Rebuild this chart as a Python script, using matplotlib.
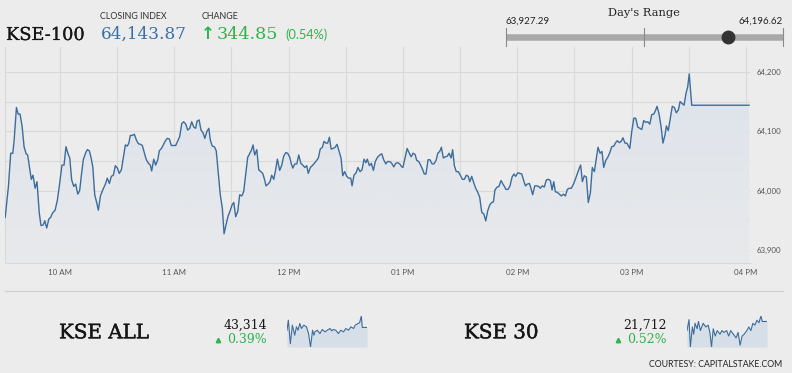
"""KSE-100 intraday widget: index line with day's range header and two sparklines."""

import matplotlib.patheffects as pe
import matplotlib.pyplot as plt
import numpy as np
from matplotlib.colors import LinearSegmentedColormap

# KSE-100 intraday: minutes after 09:30 and index level
kse100_minutes = [
    1.2, 2.9, 4.1, 5.2, 5.9, 7.1, 8.0, 9.0, 10.1, 11.1,
    12.2, 13.0, 13.9, 14.9, 15.8, 16.9, 17.9, 19.1, 20.0, 21.1,
    22.0, 23.0, 24.1, 25.1, 26.0, 27.4, 28.6, 29.6, 31.0, 32.1,
    33.1, 34.2, 35.1, 36.1, 37.2, 38.2, 39.3, 40.3, 41.2, 42.2,
    43.5, 44.3, 45.4, 46.3, 47.2, 48.2, 49.3, 50.1, 51.2, 52.4,
    53.8, 54.8, 55.9, 56.9, 58.0, 59.0, 60.1, 61.1, 62.2, 63.2,
    64.3, 65.3, 66.1, 66.9, 68.0, 69.0, 70.1, 71.1, 72.2, 73.2,
    74.3, 75.3, 76.4, 77.4, 78.1, 79.2, 80.2, 81.3, 82.1, 83.2,
    84.2, 85.3, 86.3, 87.4, 88.4, 89.5, 90.7, 91.8, 92.8, 93.9,
    94.9, 96.0, 97.0, 98.1, 99.1, 100.2, 101.2, 101.9, 103.0, 104.0,
    105.1, 106.0, 107.0, 108.1, 108.9, 109.9, 111.0, 112.0, 113.1, 114.1,
    115.2, 116.1, 117.1, 118.2, 119.2, 120.3, 121.2, 122.2, 123.3, 124.3,
    125.4, 126.4, 127.5, 128.5, 129.6, 130.6, 131.3, 132.2, 133.3, 134.3,
    135.4, 136.4, 137.5, 138.1, 139.2, 140.2, 141.1, 142.2, 143.0, 144.1,
    145.3, 146.4, 147.4, 148.5, 149.5, 150.6, 151.4, 152.2, 153.2, 154.3,
    155.3, 156.4, 157.4, 158.5, 159.5, 160.3, 161.4, 162.4, 163.5, 164.5,
    165.6, 166.6, 167.7, 168.6, 169.6, 170.5, 171.4, 172.3, 173.3, 174.4,
    175.4, 176.5, 177.5, 178.4, 179.4, 180.5, 181.5, 182.6, 183.3, 184.3,
    185.4, 186.4, 187.5, 188.5, 189.6, 190.6, 191.3, 192.4, 193.4, 194.5,
    195.5, 196.6, 197.8, 198.9, 199.9, 201.0, 202.0, 203.1, 204.1, 205.2,
    206.2, 207.3, 208.3, 209.4, 210.0, 211.1, 212.2, 213.2, 214.3, 215.3,
    216.4, 217.2, 218.3, 219.3, 220.4, 221.2, 222.1, 223.2, 224.2, 225.3,
    226.3, 227.4, 228.3, 229.3, 230.2, 231.2, 232.3, 233.3, 234.2, 235.3,
    236.1, 237.0, 238.0, 239.1, 240.1, 241.2, 242.2, 243.3, 244.3, 245.1,
    246.1, 247.2, 248.2, 249.3, 250.3, 251.4, 252.4, 253.5, 254.5, 255.6,
    256.6, 257.5, 258.3, 259.4, 260.4, 261.5, 262.5, 263.1, 264.1, 265.2,
    266.2, 267.3, 268.3, 269.2, 270.3, 271.3, 272.4, 273.2, 274.3, 275.3,
    276.4, 277.2, 278.1, 279.2, 280.2, 281.3, 282.1, 283.2, 284.2, 285.3,
    286.3, 287.4, 288.3, 289.2, 290.0, 291.1, 292.1, 293.2, 294.2, 295.3,
    296.3, 297.3, 298.4, 299.4, 300.5, 301.6, 302.6, 303.3, 304.2, 305.2,
    306.3, 307.3, 308.4, 309.4, 310.5, 311.5, 312.4, 313.5, 314.5, 315.4,
    316.5, 317.5, 318.6, 319.6, 320.7, 321.7, 322.5, 323.6, 324.6, 325.5,
    326.6, 327.6, 329.1, 330.1, 331.2, 332.2, 333.3, 334.3, 335.4, 336.4,
    337.5, 338.5, 339.6, 340.6, 341.7, 342.7, 343.4, 344.4, 345.5, 346.5,
    347.6, 348.3, 349.3, 350.4, 351.4, 352.5, 353.5, 354.6, 355.5, 356.5,
    357.6, 358.6, 359.5, 360.3, 361.6, 391.7,
]
kse100_values = [
    63955, 64007, 64063, 64063, 64085, 64140, 64129, 64129, 64108, 64074,
    64062, 64060, 64040, 64019, 64026, 64004, 64015, 63962, 63941, 63942,
    63949, 63937, 63952, 63955, 63962, 63967, 63984, 64007, 64043, 64043,
    64074, 64062, 64055, 64018, 64007, 64011, 63994, 64000, 64026, 64052,
    64064, 64069, 64067, 64055, 64040, 63993, 63979, 63967, 63991, 64001,
    64011, 64021, 64012, 64024, 64026, 64042, 64038, 64029, 64035, 64055,
    64077, 64075, 64080, 64093, 64093, 64095, 64085, 64079, 64078, 64076,
    64063, 64052, 64046, 64043, 64033, 64053, 64043, 64052, 64067, 64071,
    64077, 64084, 64088, 64087, 64076, 64076, 64076, 64084, 64091, 64113,
    64116, 64112, 64102, 64105, 64116, 64107, 64105, 64117, 64119, 64102,
    64097, 64088, 64099, 64105, 64085, 64075, 64074, 64067, 64029, 63993,
    63970, 63927.29, 63942, 63957, 63965, 63976, 63980, 63956, 63965, 63993,
    63991, 63998, 64029, 64056, 64063, 64069, 64077, 64060, 64069, 64035,
    64032, 64029, 64017, 64008, 64011, 64015, 64026, 64019, 64032, 64053,
    64034, 64043, 64058, 64064, 64063, 64056, 64045, 64038, 64045, 64045,
    64060, 64046, 64043, 64039, 64042, 64029, 64039, 64042, 64046, 64050,
    64055, 64070, 64073, 64083, 64080, 64080, 64090, 64070, 64071, 64073,
    64078, 64066, 64055, 64025, 64032, 64024, 64021, 64021, 64008, 64026,
    64030, 64039, 64032, 64035, 64053, 64047, 64053, 64042, 64046, 64034,
    64049, 64056, 64060, 64062, 64052, 64045, 64049, 64049, 64046, 64040,
    64046, 64047, 64045, 64040, 64039, 64055, 64071, 64064, 64057, 64063,
    64061, 64051, 64049, 64043, 64035, 64028, 64028, 64052, 64052, 64045,
    64045, 64051, 64063, 64066, 64073, 64055, 64057, 64058, 64063, 64055,
    64069, 64042, 64032, 64032, 64026, 64019, 64019, 64026, 64024, 64015,
    64024, 64013, 64004, 63997, 63989, 63963, 63961, 63949, 63966, 63976,
    63980, 63981, 64001, 64006, 64007, 64017, 64011, 64008, 64002, 64002,
    64008, 64023, 64028, 64024, 64030, 64029, 64028, 64019, 64008, 64011,
    64012, 64004, 63993, 64008, 64008, 64007, 64004, 64008, 64006, 64018,
    64019, 64017, 64001, 64015, 63998, 63997, 63994, 63991, 63994, 63991,
    64002, 64004, 64004, 64010, 64019, 64029, 64038, 64043, 64015, 64025,
    64023, 63980, 63996, 64039, 64032, 64053, 64073, 64063, 64066, 64039,
    64051, 64056, 64064, 64074, 64075, 64081, 64084, 64081, 64083, 64089,
    64080, 64080, 64071, 64099, 64122, 64122, 64107, 64105, 64103, 64118,
    64115, 64116, 64112, 64128, 64129, 64136, 64142, 64130, 64108, 64080,
    64094, 64109, 64101, 64122, 64142, 64140, 64131, 64136, 64150, 64147,
    64144, 64164, 64175, 64196.62, 64143.87, 64143.87,
]

# sparklines (minutes after 09:30, index level)
kse_all_minutes = [
    0, 6.6, 16.4, 26.2, 37.7, 45.9, 54.1, 62.3, 70.5, 81.9,
    95.0, 104.9, 114.7, 124.5, 131.1, 136.0, 147.5, 160.6, 172.1, 185.2,
    196.6, 209.8, 218.0, 226.1, 237.6, 250.7, 262.2, 275.3, 286.8, 299.9,
    311.4, 324.5, 332.7, 340.9, 354.0, 362.3, 367.2, 390.0,
]
kse_all_values = [
    43296, 43362, 43208, 43329, 43263, 43318, 43296, 43340, 43307, 43329,
    43318, 43274, 43186, 43296, 43263, 43285, 43296, 43274, 43301, 43285,
    43296, 43307, 43292, 43301, 43296, 43274, 43296, 43285, 43307, 43296,
    43318, 43307, 43329, 43336, 43345, 43389, 43314, 43314,
]
kse30_minutes = [
    0, 9.8, 16.4, 26.2, 32.8, 39.3, 49.2, 55.7, 65.5, 78.7,
    91.8, 103.2, 111.4, 119.6, 127.8, 137.7, 147.5, 160.6, 170.4, 180.2,
    193.3, 203.2, 213.0, 226.1, 239.2, 249.0, 258.9, 268.7, 278.5, 291.6,
    301.5, 311.4, 321.2, 331.0, 340.9, 350.7, 360.5, 367.1, 390.0,
]
kse30_values = [
    21682, 21718, 21628, 21694, 21670, 21706, 21688, 21712, 21682, 21706,
    21694, 21700, 21676, 21628, 21688, 21664, 21682, 21670, 21682, 21676,
    21682, 21664, 21682, 21670, 21658, 21676, 21634, 21664, 21670, 21682,
    21694, 21682, 21706, 21700, 21716, 21708, 21730, 21712, 21712,
]

hour_ticks = [30, 90, 150, 210, 270, 330, 390]
hour_labels = ["10 AM", "11 AM", "12 PM", "01 PM", "02 PM", "03 PM", "04 PM"]
level_ticks = [63900, 64000, 64100, 64200]

closing_index = 64143.87
change_points = 344.85
change_pct = 0.54
day_low = 63927.29
day_high = 64196.62
kse_all_last, kse_all_pct = 43314, 0.39
kse30_last, kse30_pct = 21712, 0.52

W, H = 792, 373
BG = "#ececec"
LINE = "#3d6d9d"
GREEN = "#2fb24c"
BLUE = "#3a6ea5"
GRID = "#d9d9d9"
INK = "#161616"
SERIF = "DejaVu Serif"
SANS = "Lato"


def box(x0, y0, x1, y1):
    """Pixel box (y measured from the top) -> figure rect."""
    return [x0 / W, 1 - y1 / H, (x1 - x0) / W, (y1 - y0) / H]


def heavy(color, width):
    """Thicken the thin DejaVu Serif strokes a little."""
    return [pe.withStroke(linewidth=width, foreground=color)]


fig = plt.figure(figsize=(W / 100, H / 100), dpi=100, facecolor=BG)

# main intraday chart
ax = fig.add_axes(box(5, 47, 750, 263))
ax.set_facecolor(BG)
x_lo, x_hi = 1.1, 392.2
y_lo, y_hi = 63878, 64242
t = np.array(kse100_minutes)
v = np.array(kse100_values)

poly = ax.fill_between(t, v, y_lo, color="none", lw=0)
cmap = LinearSegmentedColormap.from_list("fade", ["#e8e9eb", "#dce3eb"])
grad = np.linspace(0, 1, 256).reshape(-1, 1)
im = ax.imshow(grad, extent=[x_lo, x_hi, y_lo, y_hi], origin="lower",
               aspect="auto", cmap=cmap, zorder=1)
im.set_clip_path(poly.get_paths()[0], transform=ax.transData)
ax.plot(t, v, color=LINE, lw=1.0, zorder=3)

ax.set_xlim(x_lo, x_hi)
ax.set_ylim(y_lo, y_hi)
ax.set_xticks(np.arange(30, 391, 30))
ax.set_xticklabels([hour_labels[hour_ticks.index(m)] if m in hour_ticks else ""
                    for m in range(30, 391, 30)])
ax.set_yticks(np.arange(63900, 64201, 50))
ax.set_yticklabels([f"{y:,}" if y in level_ticks else "" for y in range(63900, 64201, 50)])
ax.yaxis.tick_right()
ax.tick_params(length=0, labelsize=5.7, labelcolor="#555555", pad=4)
ax.tick_params(axis="y", pad=5)
for lab in ax.get_xticklabels() + ax.get_yticklabels():
    lab.set_family(SANS)
ax.grid(True, color=GRID, lw=0.8, zorder=0)
ax.set_axisbelow(True)
for side in ["top", "right"]:
    ax.spines[side].set_visible(False)
for side in ["left", "bottom"]:
    ax.spines[side].set_color(GRID)
    ax.spines[side].set_linewidth(0.8)

# sparklines
for rect, mins, vals in [((287, 316, 367, 347), kse_all_minutes, kse_all_values),
                         ((687, 316, 767, 347), kse30_minutes, kse30_values)]:
    sp = fig.add_axes(box(*rect))
    lo, hi = min(vals), max(vals)
    sp.fill_between(mins, vals, lo, color="#d6dee7", lw=0)
    sp.plot(mins, vals, color=LINE, lw=0.8)
    sp.set_xlim(0, 390)
    sp.set_ylim(lo, hi)
    sp.axis("off")

# overlay in pixel coordinates for header / footer
ov = fig.add_axes([0, 0, 1, 1])
ov.set_xlim(0, W)
ov.set_ylim(H, 0)
ov.axis("off")

ov.text(6, 40, "KSE-100", family=SERIF, size=12.8, color=INK, va="baseline",
        path_effects=heavy(INK, 0.15))
ov.text(100, 19.3, "CLOSING INDEX", family=SANS, size=6.4, color="#333333", va="baseline")
ov.text(101, 39.3, f"{closing_index:,.2f}", family=SERIF, size=12.2, color=BLUE,
        va="baseline")
ov.text(202, 19.3, "CHANGE", family=SANS, size=6.4, color="#333333", va="baseline")
ov.text(201, 39.3, "\u2191", family="DejaVu Sans", size=12, color=GREEN, va="baseline",
        weight="bold")
ov.text(217, 39.3, f"{change_points:.2f}", family=SERIF, size=12.6, color=GREEN,
        va="baseline")
ov.text(285, 39.3, f"({change_pct:.2f}%)", family=SANS, size=9.2, color=GREEN, va="baseline")

# day's range
bar_x0, bar_x1, bar_y = 505.5, 782.5, 36.7
ov.text((bar_x0 + bar_x1) / 2, 16, "Day's Range", family=SERIF, size=8.2, color="#222222",
        ha="center", va="baseline")
ov.text(bar_x0, 23.3, f"{day_low:,.2f}", family=SANS, size=7.0, color="#222222", va="baseline")
ov.text(bar_x1, 23.3, f"{day_high:,.2f}", family=SANS, size=7.0, color="#222222",
        ha="right", va="baseline")
ov.plot([bar_x0, bar_x1], [bar_y, bar_y], color="#a9a9a9", lw=4.7, solid_capstyle="butt")
for bx in [bar_x0, (bar_x0 + bar_x1) / 2, bar_x1]:
    ov.plot([bx, bx], [27.5, 46], color="#8a8a8a", lw=0.8)
dot_x = bar_x0 + (closing_index - day_low) / (day_high - day_low) * (bar_x1 - bar_x0)
ov.plot(dot_x, bar_y, "o", ms=9, color="#333333")

# footer
ov.plot([5, 783], [291, 291], color="#d0d0d0", lw=0.9)
for name, nx, last, pct, rx in [("KSE ALL", 59, kse_all_last, kse_all_pct, 266.7),
                                ("KSE 30", 464, kse30_last, kse30_pct, 666.7)]:
    ov.text(nx, 338.3, name, family=SERIF, size=14.3, color=INK, va="baseline",
            path_effects=heavy(INK, 0.3))
    ov.text(rx, 328.3, f"{last:,}", family=SERIF, size=8.9, color=INK,
            ha="right", va="baseline")
    ov.text(rx, 343.3, f"{pct:.2f}%", family=SERIF, size=9.0, color=GREEN,
            ha="right", va="baseline")
    ov.plot(rx - 48.5, 340.3, "^", ms=3.2, color=GREEN)

ov.text(782.5, 367.3, "COURTESY: CAPITALSTAKE.COM", family=SANS, size=6.3, color="#222222",
        ha="right", va="baseline")

fig.savefig("out.png", dpi=100, facecolor=BG)
